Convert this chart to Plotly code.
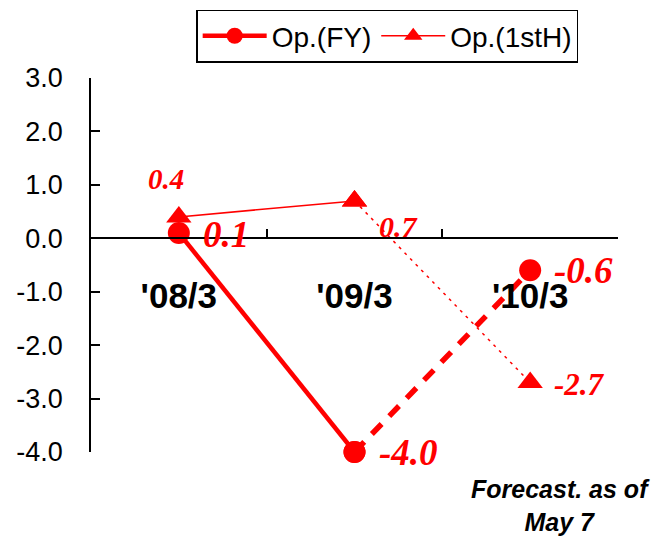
import plotly.graph_objects as go

categories = ["'08/3", "'09/3", "'10/3"]
op_fy = [0.1, -4.0, -0.6]
op_1sth = [0.4, 0.7, -2.7]
y_ticks = [3.0, 2.0, 1.0, 0.0, -1.0, -2.0, -3.0, -4.0]

RED = "#FF0000"
fig = go.Figure()

# Op.(FY): actual (solid) then forecast (dashed)
fig.add_trace(go.Scatter(x=categories[0:2], y=op_fy[0:2], name="Op.(FY)", mode="lines+markers",
                         line=dict(color=RED, width=4.5), cliponaxis=False,
                         marker=dict(symbol="circle", size=22, color=RED), legendrank=1))
fig.add_trace(go.Scatter(x=categories[1:3], y=op_fy[1:3], showlegend=False, mode="lines+markers",
                         line=dict(color=RED, width=5.5, dash="14px,11px"), cliponaxis=False,
                         marker=dict(symbol="circle", size=22, color=RED)))
# Op.(1stH)
fig.add_trace(go.Scatter(x=categories[0:2], y=op_1sth[0:2], name="Op.(1stH)", mode="lines+markers",
                         line=dict(color=RED, width=1.5), cliponaxis=False,
                         marker=dict(symbol="triangle-up", size=22, color=RED), legendrank=2))
fig.add_trace(go.Scatter(x=categories[1:3], y=op_1sth[1:3], showlegend=False, mode="lines+markers",
                         line=dict(color=RED, width=1.5, dash="3px,5px"), cliponaxis=False,
                         marker=dict(symbol="triangle-up", size=22, color=RED)))

# value labels
def lab(i, v, size, xanchor="left", xshift=22, yshift=0):
    fig.add_annotation(x=categories[i], y=v, xref="x", yref="y",
                       text=f"<b><i>{v:.1f}</i></b>",
                       showarrow=False, xanchor=xanchor, yanchor="middle",
                       xshift=xshift, yshift=yshift,
                       font=dict(family="Liberation Serif", size=size, color=RED))

lab(0, op_1sth[0], 29, xanchor="center", xshift=-13, yshift=38)
lab(0, op_fy[0], 37, yshift=-2)
lab(1, op_1sth[1], 30, yshift=-26)
lab(1, op_fy[1], 37, yshift=0)
lab(2, op_fy[2], 37, yshift=0)
lab(2, op_1sth[2], 31, yshift=-2)

fig.add_annotation(x=0.89, y=-0.142, xref="paper", yref="paper",
                   text="<b><i>Forecast. as of<br>May 7</i></b>", showarrow=False,
                   xanchor="center", yanchor="middle", align="center",
                   font=dict(family="Liberation Sans", size=25, color="black"))

fig.update_layout(
    width=662, height=539,
    margin=dict(l=91, r=44, t=78, b=87, autoexpand=False),
    paper_bgcolor="white", plot_bgcolor="white",
    font=dict(family="Liberation Sans", color="black"),
    showlegend=True,
    legend=dict(orientation="h", x=0.562, xanchor="center", y=1.183, yanchor="top",
                bordercolor="black", borderwidth=1.5, bgcolor="white",
                font=dict(size=28, family="Liberation Sans"),
                itemwidth=64, tracegroupgap=0),
    xaxis=dict(type="category", range=[-0.5, 2.5], anchor="free", position=4/7,
               showline=True, linecolor="black", linewidth=1.5,
               ticks="inside", tickson="boundaries", ticklen=9, tickwidth=1.5,
               tickcolor="black", showgrid=False, zeroline=False,
               tickfont=dict(size=35, family="Liberation Sans", weight="bold"),
               ticklabelstandoff=27),
    yaxis=dict(range=[-4, 3], tickvals=y_ticks, ticktext=[f"{v:.1f}" for v in y_ticks],
               showline=True, linecolor="black", linewidth=1.5,
               ticks="inside", ticklen=9, tickwidth=1.5, tickcolor="black",
               showgrid=False, zeroline=False,
               tickfont=dict(size=27, family="Liberation Sans"),
               ticklabelstandoff=21),
)

fig.write_html("out.html", config={"displayModeBar": False},
               post_script="document.body.style.margin='0';")
